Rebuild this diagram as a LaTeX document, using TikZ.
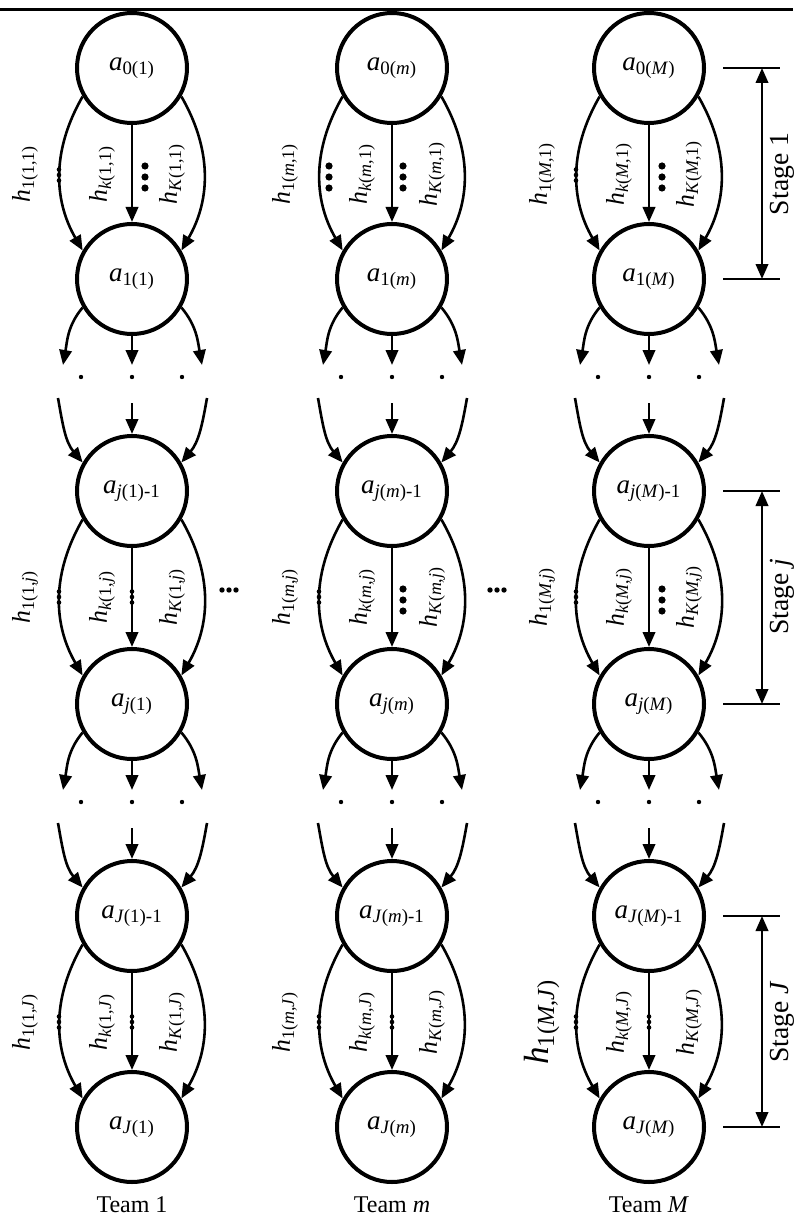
\documentclass[tikz,border=0pt]{standalone}
\usepackage{fontspec}
\setmainfont{Liberation Serif}
\usetikzlibrary{arrows.meta}

\tikzset{
  state/.style={draw, circle, line width=2pt, minimum size=55pt, inner sep=0pt,
    font=\fontsize{13.5}{15}\selectfont},
  flow/.style={line width=1.3pt, -{Triangle[length=7.5pt,width=6.2pt]}},
  hlab/.style={rotate=90, inner sep=0pt, font=\fontsize{12.8}{14}\selectfont},
  teamlab/.style={inner sep=0pt, font=\fontsize{12}{14}\selectfont},
  stagelab/.style={rotate=90, inner sep=0pt, font=\fontsize{13.8}{16}\selectfont},
  stagebar/.style={line width=1.1pt},
  stagearrow/.style={line width=1.3pt,
    {Triangle[length=7.5pt,width=6.2pt]}-{Triangle[length=7.5pt,width=6.2pt]}},
  tinydots/.pic={\foreach \dy in {-5.5,0,5.5} \fill (0,\dy) circle (2.3);},
  fatdots/.pic={\foreach \dy in {-11,0,11} \fill (0,\dy) circle (3.6);},
  rowdots/.pic={\foreach \dy in {-7,0,7} \fill (\dy,0) circle (2.7);}
}

\begin{document}
\begin{tikzpicture}[x=0.5pt, y=0.5pt]
  \useasboundingbox (0,0) rectangle (793,-1225);
  \draw[line width=1.5pt] (0,-9.5) -- (793,-9.5);
  \foreach \x/\tn/\n/\cn in {132/1/t1/1, 392/\textit{m}/tm/2, 649/\textit{M}/tM/3} {
    % states of one team
    \foreach \r/\y/\idx in {0/68/0(\tn), 1/279/1(\tn), 2/491/\textit{j}(\tn)-1,
        3/704/\textit{j}(\tn), 4/916/\textit{J}(\tn)-1, 5/1127/\textit{J}(\tn)}
      \node[state] (\n-\r) at (\x,-\y) {\textit{a}\textsubscript{\idx}};
    % the three stages drawn
    \foreach \p/\q/\s in {0/1/1, 2/3/\textit{j}, 4/5/\textit{J}} {
      \draw[flow] (\n-\p.210) to[out=240,in=120] (\n-\q.150);
      \draw[flow] (\n-\p) -- (\n-\q);
      \draw[flow] (\n-\p.330) to[out=300,in=60] (\n-\q.30);
      \pgfmathsetmacro{\hsz}{(\p==4 && \cn==3) ? 17.5 : 12.8}
      \node[hlab, font=\fontsize{\hsz}{\hsz}\selectfont] (\n-h1-\p)
        at ([shift={(-107,-106)}]\n-\p.center) {\textit{h}\textsubscript{1(\tn,\s)}};
      \node[hlab] (\n-hk-\p) at ([shift={(-30,-106)}]\n-\p.center)
        {\textit{h}\textsubscript{\textit{k}(\tn,\s)}};
      \node[hlab] (\n-hK-\p) at ([shift={(40,-106)}]\n-\p.center)
        {\textit{h}\textsubscript{\textit{K}(\tn,\s)}};
    }
    % skipped stages
    \foreach \r/\s in {1/2, 3/4} {
      \coordinate (\n-\r-ol) at ([shift={(-69,-86)}]\n-\r.center);
      \coordinate (\n-\r-oc) at ([shift={(0,-86)}]\n-\r.center);
      \coordinate (\n-\r-or) at ([shift={(70,-86)}]\n-\r.center);
      \draw[flow] (\n-\r.210) to[out=230,in=80] (\n-\r-ol);
      \draw[flow] (\n-\r) -- (\n-\r-oc);
      \draw[flow] (\n-\r.330) to[out=310,in=100] (\n-\r-or);
      \foreach \dx in {-51,0,50}
        \fill ([shift={(\dx,-98)}]\n-\r.center) circle (2.2);
      \coordinate (\n-\s-il) at ([shift={(-74,93)}]\n-\s.center);
      \coordinate (\n-\s-ic) at ([shift={(0,88)}]\n-\s.center);
      \coordinate (\n-\s-ir) at ([shift={(75,93)}]\n-\s.center);
      \draw[flow] (\n-\s-il) to[out=-80,in=130] (\n-\s.150);
      \draw[flow] (\n-\s-ic) -- (\n-\s);
      \draw[flow] (\n-\s-ir) to[out=-100,in=50] (\n-\s.30);
    }
    \node[teamlab] (\n-team) at (\x,-1205) {Team \tn};
  }
  % dots between the h labels
  \foreach \px/\py in {59/175, 59/597, 132/597, 59/1022, 132/1022, 319/597, 319/1022,
      392/1022, 576/175, 576/597, 576/1022, 649/1022}
    \pic at (\px,-\py) {tinydots};
  \foreach \px/\py in {145/177, 329/177, 403/177, 403/600, 662/177, 662/600}
    \pic at (\px,-\py) {fatdots};
  \pic at (229,-590) {rowdots};
  \pic at (497,-590) {rowdots};
  % stage brackets
  \foreach \p/\q/\s in {0/1/1, 2/3/\textit{j}, 4/5/\textit{J}} {
    \draw[stagebar] ([shift={(74,0)}]tM-\p.center) -- ([shift={(131,0)}]tM-\p.center);
    \draw[stagebar] ([shift={(74,0)}]tM-\q.center) -- ([shift={(131,0)}]tM-\q.center);
    \coordinate (st-\p-a) at ([shift={(113,0)}]tM-\p.center);
    \coordinate (st-\p-b) at ([shift={(113,0)}]tM-\q.center);
    \draw[stagearrow] (st-\p-a) -- (st-\p-b);
    \node[stagelab] (st-\p) at ([shift={(133,-106)}]tM-\p.center) {Stage \s};
  }
\end{tikzpicture}
\end{document}
